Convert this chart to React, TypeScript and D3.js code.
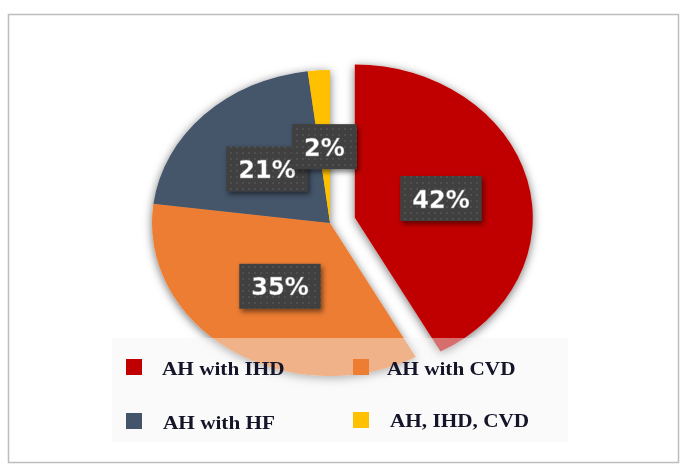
import { useEffect, useRef } from "react";
import * as d3 from "d3";

// ── Data ──────────────────────────────────────────────────────────────────────

const CATEGORIES = ["AH with IHD", "AH with CVD", "AH with HF", "AH, IHD, CVD"];
const VALUES     = [42, 35, 21, 2];
const LABELS     = ["42%", "35%", "21%", "2%"];
const COLORS     = ["#C00000", "#ED7D31", "#44546A", "#FFC000"];
const EXPLODED   = [true, false, false, false];

// ── Config ────────────────────────────────────────────────────────────────────

const W = 684;
const H = 466;
const CX = 330;
const CY = 223;
const RY = 153;
const SX = 178 / 153;      // pie is stretched horizontally
const EXPLODE = 22;

const App = () => {
  const svgRef = useRef<SVGSVGElement>(null);

  useEffect(() => {
    if (!svgRef.current) return;
    const svg = d3.select(svgRef.current);
    svg.selectAll("*").remove();

    const defs = svg.append("defs");

    const pieShadow = defs.append("filter").attr("id", "pieShadow")
      .attr("x", "-20%").attr("y", "-20%").attr("width", "140%").attr("height", "140%");
    pieShadow.append("feDropShadow")
      .attr("dx", 0).attr("dy", 2).attr("stdDeviation", 5)
      .attr("flood-color", "#000").attr("flood-opacity", 0.55);

    const boxShadow = defs.append("filter").attr("id", "boxShadow")
      .attr("x", "-30%").attr("y", "-30%").attr("width", "160%").attr("height", "160%");
    boxShadow.append("feDropShadow")
      .attr("dx", 2).attr("dy", 3).attr("stdDeviation", 2.5)
      .attr("flood-color", "#000").attr("flood-opacity", 0.5);

    const dots = defs.append("pattern").attr("id", "dots")
      .attr("patternUnits", "userSpaceOnUse").attr("width", 6).attr("height", 6);
    dots.append("rect").attr("width", 6).attr("height", 6).attr("fill", "#404040");
    dots.append("circle").attr("cx", 3).attr("cy", 3).attr("r", 0.7).attr("fill", "#6a6a6a");

    // Frame
    svg.append("rect")
      .attr("x", 8.5).attr("y", 14.5).attr("width", 670).attr("height", 448)
      .attr("fill", "#fff").attr("stroke", "#bdbdbd").attr("stroke-width", 1.5);

    // Pie
    const pie = d3.pie<number>().sort(null).value((d) => d);
    const arcs = pie(VALUES);
    const arc = d3.arc<d3.PieArcDatum<number>>().innerRadius(0).outerRadius(RY);

    const offset = (d: d3.PieArcDatum<number>, i: number) => {
      if (!EXPLODED[i]) return [0, 0];
      const mid = (d.startAngle + d.endAngle) / 2;
      return [Math.sin(mid) * EXPLODE * SX, -Math.cos(mid) * EXPLODE];
    };

    const pieG = svg.append("g").attr("filter", "url(#pieShadow)");
    pieG.selectAll("path")
      .data(arcs)
      .join("path")
      .attr("transform", (d, i) => {
        const [ox, oy] = offset(d, i);
        return `translate(${CX + ox},${CY + oy}) scale(${SX},1)`;
      })
      .attr("d", arc)
      .attr("fill", (_, i) => COLORS[i]);

    // Legend (semi-transparent box over pie bottom)
    svg.append("rect")
      .attr("x", 112).attr("y", 338).attr("width", 456).attr("height", 104)
      .attr("fill", "#f3f3f3").attr("opacity", 0.45);

    const legendPos = [
      { x: 126, y: 359, tx: 162, ty: 375 },
      { x: 353, y: 359, tx: 387, ty: 375 },
      { x: 126, y: 413, tx: 163, ty: 429 },
      { x: 353, y: 412, tx: 390, ty: 427 },
    ];

    CATEGORIES.forEach((cat, i) => {
      const p = legendPos[i];
      svg.append("rect")
        .attr("x", p.x).attr("y", p.y).attr("width", 16).attr("height", 16)
        .attr("fill", COLORS[i]);
      svg.append("text")
        .attr("transform", `translate(${p.tx},${p.ty}) scale(1.18,1)`)
        .attr("font-family", "'Liberation Serif', 'Times New Roman', serif")
        .attr("font-weight", "bold")
        .attr("font-size", 18)
        .attr("fill", "#15152a")
        .text(cat);
    });

    // Data labels
    arcs.forEach((d, i) => {
      const mid = (d.startAngle + d.endAngle) / 2;
      const [ox, oy] = offset(d, i);
      const lx = CX + ox + Math.sin(mid) * RY * 0.5 * SX;
      const ly = CY + oy - Math.cos(mid) * RY * 0.5;

      const g = svg.append("g");
      const rect = g.append("rect")
        .attr("fill", "url(#dots)")
        .attr("filter", "url(#boxShadow)");
      const t = g.append("text")
        .attr("x", lx).attr("y", ly + 9)
        .attr("text-anchor", "middle")
        .attr("font-family", "'DejaVu Sans', Verdana, sans-serif")
        .attr("font-weight", "bold")
        .attr("font-size", 24)
        .attr("fill", "#fff")
        .attr("stroke", "#9a9a9a")
        .attr("stroke-width", 0.4)
        .text(LABELS[i]);
      const tw = (t.node() as SVGTextElement).getComputedTextLength();
      const bw = tw + 24;
      const bh = 45;
      rect.attr("x", lx - bw / 2).attr("y", ly - bh / 2)
        .attr("width", bw).attr("height", bh);
    });
  }, []);

  return (
    <svg
      ref={svgRef}
      width={W}
      height={H}
      style={{ position: "absolute", left: 0, top: 0, display: "block", background: "#fff" }}
    />
  );
};

export default App;
